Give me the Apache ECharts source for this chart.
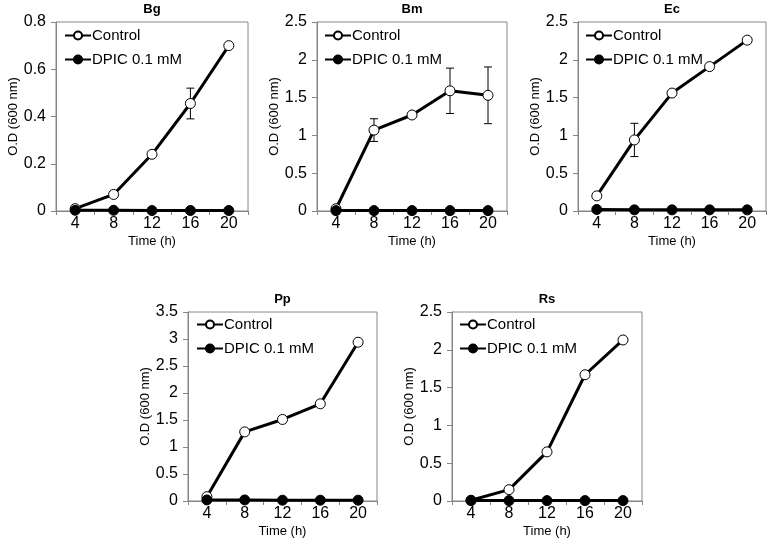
<!DOCTYPE html>
<html>
<head>
<meta charset="utf-8">
<script src="https://cdn.jsdelivr.net/npm/echarts@6/dist/echarts.min.js"></script>
<style>html,body{margin:0;padding:0;background:#fff;}#c{width:770px;height:547px;}</style>
</head>
<body>
<div id="c"></div>
<script>
const hours = ['4', '8', '12', '16', '20'];
const panelNames = ['Bg', 'Bm', 'Ec', 'Pp', 'Rs'];

const bgControl = [0.01, 0.07, 0.24, 0.455, 0.70];
const bgDpic = [0.003, 0.003, 0.002, 0.002, 0.002];
const bgErr = [0, 0, 0, 0.065, 0];

const bmControl = [0.03, 1.07, 1.27, 1.59, 1.53];
const bmDpic = [0.005, 0.005, 0.005, 0.005, 0.005];
const bmErr = [0, 0.15, 0, 0.30, 0.375];

const ecControl = [0.20, 0.94, 1.56, 1.91, 2.26];
const ecDpic = [0.02, 0.015, 0.015, 0.015, 0.015];
const ecErr = [0.03, 0.22, 0, 0, 0];

const ppControl = [0.08, 1.28, 1.51, 1.80, 2.94];
const ppDpic = [0.02, 0.02, 0.015, 0.015, 0.015];
const ppErr = [0, 0, 0, 0, 0];

const rsControl = [0.01, 0.15, 0.65, 1.67, 2.13];
const rsDpic = [0.005, 0.005, 0.005, 0.005, 0.005];
const rsErr = [0, 0, 0, 0, 0];

const yMax = [0.8, 2.5, 2.5, 3.5, 2.5];
const yStep = [0.2, 0.5, 0.5, 0.5, 0.5];

const controls = [bgControl, bmControl, ecControl, ppControl, rsControl];
const dpics = [bgDpic, bmDpic, ecDpic, ppDpic, rsDpic];
const errs = [bgErr, bmErr, ecErr, ppErr, rsErr];

const FONT = 'Liberation Sans, Arial, sans-serif';
const GREY = '#868686';

const grids = [
  {left: 56, top: 22, width: 192, height: 189},
  {left: 317, top: 22, width: 190, height: 189},
  {left: 578, top: 22, width: 188, height: 189},
  {left: 188, top: 312, width: 189, height: 189},
  {left: 452, top: 312, width: 190, height: 189}
];
const legendPos = [
  {left: 64, top: 28},
  {left: 324, top: 28},
  {left: 585, top: 28},
  {left: 196, top: 317},
  {left: 459, top: 317}
];

const option = {
  backgroundColor: '#fff',
  animation: false,
  textStyle: {fontFamily: FONT},
  title: [], grid: [], xAxis: [], yAxis: [], legend: [], series: []
};

panelNames.forEach((name, i) => {
  const g = grids[i];
  option.title.push({
    text: name, left: g.left + g.width / 2, top: g.top - 19, textAlign: 'center', padding: 0,
    textStyle: {fontFamily: FONT, fontSize: 13, fontWeight: 'bold', color: '#000'}
  });
  option.grid.push({
    left: g.left, top: g.top, width: g.width, height: g.height,
    show: true, borderColor: GREY, borderWidth: 1, backgroundColor: 'transparent'
  });
  option.xAxis.push({
    type: 'category', gridIndex: i, data: hours, boundaryGap: true,
    name: 'Time (h)', nameLocation: 'middle', nameGap: 24,
    nameTextStyle: {fontFamily: FONT, fontSize: 13, color: '#000'},
    axisLine: {lineStyle: {color: GREY, width: 1}},
    axisTick: {show: true, length: 4, lineStyle: {color: GREY}},
    axisLabel: {fontFamily: FONT, fontSize: 16, color: '#000', margin: 5},
    splitLine: {show: false}
  });
  option.yAxis.push({
    type: 'value', gridIndex: i, min: 0, max: yMax[i], interval: yStep[i],
    name: 'O.D (600 nm)', nameLocation: 'middle', nameRotate: 90, nameGap: 36,
    nameTextStyle: {fontFamily: FONT, fontSize: 13, color: '#000'},
    axisLine: {show: true, lineStyle: {color: GREY, width: 1}},
    axisTick: {show: true, length: 5, lineStyle: {color: GREY}},
    axisLabel: {fontFamily: FONT, fontSize: 16, color: '#000', margin: 10},
    splitLine: {show: false}
  });
  option.legend.push({
    left: legendPos[i].left, top: legendPos[i].top, orient: 'vertical', padding: 0,
    itemWidth: 26, itemHeight: 10, itemGap: 9, selectedMode: false,
    textStyle: {fontFamily: FONT, fontSize: 15, color: '#000', padding: [0, 0, 0, -4]},
    data: ['Control', 'DPIC 0.1 mM']
  });
  const ctrl = controls[i];
  const err = errs[i];
  const errData = [];
  err.forEach((e, k) => { if (e > 0) errData.push([k, ctrl[k] - e, ctrl[k] + e]); });
  option.series.push({
    type: 'custom', xAxisIndex: i, yAxisIndex: i, z: 1, silent: true,
    data: errData,
    renderItem: function (params, api) {
      const lo = api.coord([api.value(0), api.value(1)]);
      const hi = api.coord([api.value(0), api.value(2)]);
      const w = 4;
      const st = {stroke: '#000', lineWidth: 1};
      return {type: 'group', children: [
        {type: 'line', shape: {x1: lo[0], y1: lo[1], x2: hi[0], y2: hi[1]}, style: st},
        {type: 'line', shape: {x1: lo[0] - w, y1: lo[1], x2: lo[0] + w, y2: lo[1]}, style: st},
        {type: 'line', shape: {x1: hi[0] - w, y1: hi[1], x2: hi[0] + w, y2: hi[1]}, style: st}
      ]};
    }
  });
  option.series.push({
    name: 'Control', type: 'line', xAxisIndex: i, yAxisIndex: i, z: 3,
    data: ctrl, symbol: 'circle', symbolSize: 10, showAllSymbol: true,
    lineStyle: {color: '#000', width: 3},
    itemStyle: {color: '#fff', borderColor: '#000', borderWidth: 1}
  });
  option.series.push({
    name: 'DPIC 0.1 mM', type: 'line', xAxisIndex: i, yAxisIndex: i, z: 4,
    data: dpics[i], symbol: 'circle', symbolSize: 10, showAllSymbol: true,
    lineStyle: {color: '#000', width: 3},
    itemStyle: {color: '#000', borderColor: '#000', borderWidth: 1}
  });
});

const chart = echarts.init(document.getElementById('c'), null, {renderer: 'canvas'});
chart.setOption(option);
</script>
</body>
</html>
